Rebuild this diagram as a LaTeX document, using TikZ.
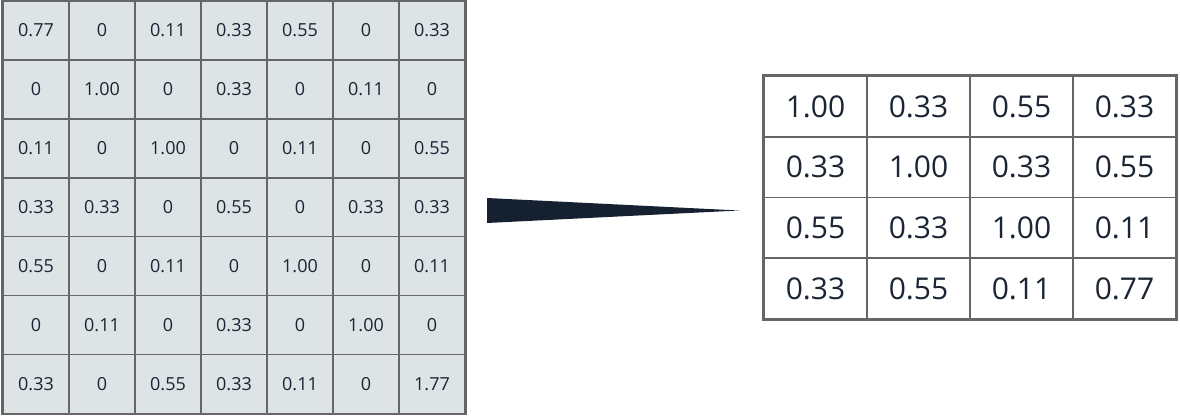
\documentclass[tikz,border=0pt]{standalone}
\usepackage{fontspec}
\setmainfont{Open Sans}
\definecolor{cellfill}{HTML}{DEE3E6}
\definecolor{gridline}{HTML}{666666}
\definecolor{txt}{HTML}{1B2533}
\definecolor{wedge}{HTML}{152030}
\tikzset{
  lcell/.style={draw=gridline, line width=1.6pt, fill=cellfill, minimum width=66pt, minimum height=58.9pt, inner sep=0pt, text=txt, font=\fontsize{18}{21}\selectfont},
  rcell/.style={draw=gridline, line width=1.6pt, fill=white, minimum width=103pt, minimum height=60.75pt, inner sep=0pt, text=txt, font=\fontsize{30}{35}\selectfont},
}
\begin{document}
\begin{tikzpicture}[x=1pt,y=-1pt]
\useasboundingbox (0,0) rectangle (1180,415);
% left 7x7 grid
\foreach \row [count=\r from 0] in {
  {0.77,0,0.11,0.33,0.55,0,0.33},
  {0,1.00,0,0.33,0,0.11,0},
  {0.11,0,1.00,0,0.11,0,0.55},
  {0.33,0.33,0,0.55,0,0.33,0.33},
  {0.55,0,0.11,0,1.00,0,0.11},
  {0,0.11,0,0.33,0,1.00,0},
  {0.33,0,0.55,0.33,0.11,0,1.77}} {
  \foreach \v [count=\c from 0] in \row {
    \node[lcell] (L\r\c) at ({3+33+66*\c},{1+29.45+58.9*\r}) {\v};
  }
}
\draw[gridline, line width=2.6pt] (L00.north west) rectangle (L66.south east);
% right 4x4 grid
\foreach \row [count=\r from 0] in {
  {1.00,0.33,0.55,0.33},
  {0.33,1.00,0.33,0.55},
  {0.55,0.33,1.00,0.11},
  {0.33,0.55,0.11,0.77}} {
  \foreach \v [count=\c from 0] in \row {
    \node[rcell] (R\r\c) at ({764+51.5+103*\c},{76+30.375+60.75*\r}) {\v};
  }
}
\draw[gridline, line width=2.4pt] (R00.north west) rectangle (R33.south east);
% wedge arrow
\coordinate (wtop) at (487,198);
\coordinate (wbot) at (487,223);
\coordinate (wtip) at (739,210.5);
\fill[wedge] (wtop) -- (wtip) -- (wbot) -- cycle;
\end{tikzpicture}
\end{document}
